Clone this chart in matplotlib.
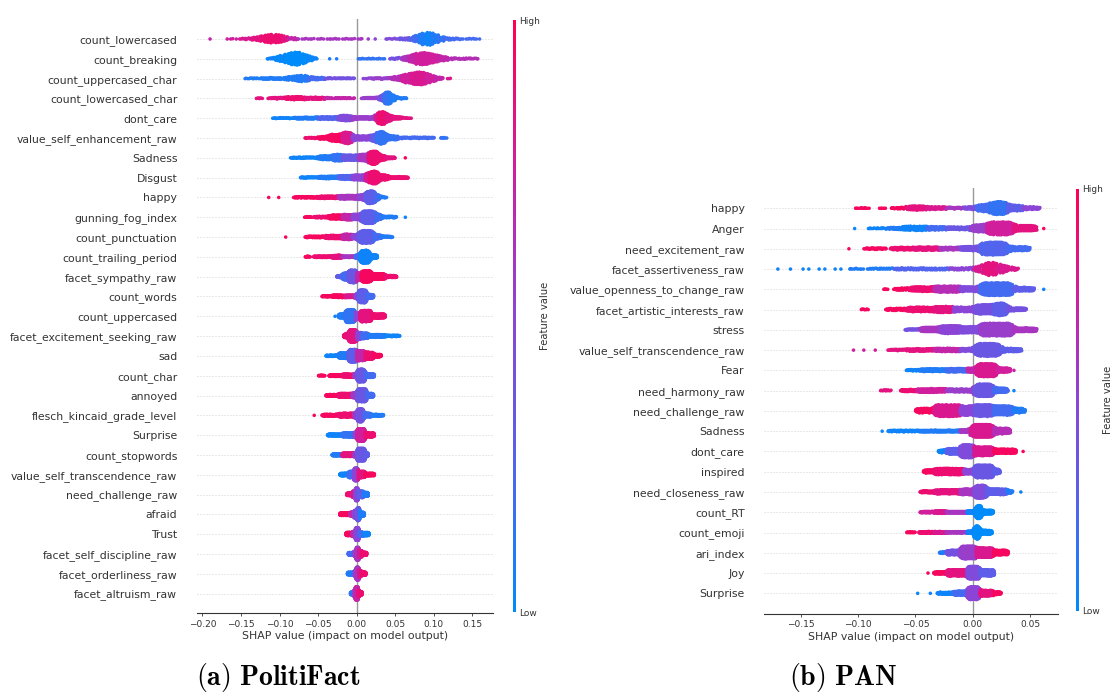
import numpy as np
import matplotlib
matplotlib.use("Agg")
import matplotlib.pyplot as plt
from matplotlib.colors import LinearSegmentedColormap, Normalize
from matplotlib.cm import ScalarMappable

plt.rcParams["mathtext.fontset"] = "cm"

# every swarm is a list of runs:
# (shap from, shap to, half thickness in dot layers, feature value 0=low .. 1=high)

# ---------------- (a) PolitiFact ----------------
pf_features = ["count_lowercased", "count_breaking", "count_uppercased_char",
               "count_lowercased_char", "dont_care", "value_self_enhancement_raw",
               "Sadness", "Disgust", "happy", "gunning_fog_index", "count_punctuation",
               "count_trailing_period", "facet_sympathy_raw", "count_words",
               "count_uppercased", "facet_excitement_seeking_raw", "sad", "count_char",
               "annoyed", "flesch_kincaid_grade_level", "Surprise", "count_stopwords",
               "value_self_transcendence_raw", "need_challenge_raw", "afraid", "Trust",
               "facet_self_discipline_raw", "facet_orderliness_raw", "facet_altruism_raw"]

pf_count_lowercased = [(-0.190, -0.190, 1, 0.7), (-0.170, -0.151, 0.5, 0.75), (-0.151, -0.136, 1, 0.8),
                       (-0.136, -0.123, 2.5, 0.85), (-0.123, -0.097, 6, 0.9), (-0.097, -0.089, 3, 0.85),
                       (-0.089, -0.076, 1.5, 0.7), (-0.076, 0.009, 0.6, 0.6), (0.015, 0.015, 1, 0.55),
                       (0.024, 0.024, 1, 0.5), (0.036, 0.054, 0.8, 0.45), (0.054, 0.071, 1.5, 0.35),
                       (0.071, 0.080, 4, 0.2), (0.080, 0.088, 8, 0.1), (0.088, 0.097, 10, 0.05),
                       (0.097, 0.106, 6, 0.1), (0.106, 0.114, 3, 0.15), (0.114, 0.132, 1.5, 0.2),
                       (0.132, 0.160, 0.7, 0.2)]
pf_count_breaking = [(-0.117, -0.106, 1, 0.05), (-0.106, -0.093, 4, 0.02), (-0.093, -0.084, 8, 0.0),
                     (-0.084, -0.073, 10, 0.0), (-0.073, -0.065, 7, 0.0), (-0.065, -0.056, 3, 0.02),
                     (-0.056, -0.050, 1, 0.05), (-0.035, -0.035, 1, 0.1), (-0.026, -0.026, 1, 0.1),
                     (0.002, 0.037, 0.7, 0.15), (0.042, 0.058, 1, 0.4), (0.058, 0.067, 3, 0.6),
                     (0.067, 0.076, 6, 0.7), (0.076, 0.093, 9, 0.75), (0.093, 0.106, 6, 0.75),
                     (0.106, 0.119, 3, 0.7), (0.119, 0.158, 1, 0.65)]
pf_count_uppercased_char = [(-0.146, -0.123, 0.8, 0.1), (-0.123, -0.093, 1.5, 0.1), (-0.093, -0.080, 3, 0.1),
                            (-0.080, -0.063, 5, 0.1), (-0.063, -0.041, 2, 0.2), (-0.041, -0.002, 1, 0.4),
                            (0.007, 0.019, 0.7, 0.5), (0.019, 0.045, 1.2, 0.55), (0.045, 0.058, 3, 0.65),
                            (0.058, 0.071, 7, 0.75), (0.071, 0.089, 10, 0.8), (0.089, 0.101, 6, 0.75),
                            (0.101, 0.112, 2, 0.7), (0.117, 0.123, 0.7, 0.8)]
pf_count_lowercased_char = [(-0.131, -0.122, 0.7, 0.85), (-0.115, -0.093, 1, 0.85), (-0.093, -0.067, 2, 0.9),
                            (-0.067, -0.041, 1.5, 0.85), (-0.041, -0.002, 0.8, 0.7), (0.006, 0.028, 1, 0.55),
                            (0.028, 0.035, 3, 0.4), (0.035, 0.043, 9, 0.15), (0.043, 0.050, 4, 0.1),
                            (0.050, 0.065, 1, 0.1)]
pf_dont_care = [(-0.109, -0.080, 0.8, 0.05), (-0.080, -0.050, 1.5, 0.1), (-0.050, -0.024, 2, 0.25),
                (-0.024, -0.006, 4, 0.45), (-0.006, 0.024, 2, 0.55), (0.024, 0.028, 6, 0.8),
                (0.028, 0.037, 10, 0.9), (0.037, 0.045, 5, 0.85), (0.045, 0.058, 2, 0.85),
                (0.058, 0.071, 0.7, 0.85)]
pf_value_self_enhancement_raw = [(-0.068, -0.050, 0.8, 0.9), (-0.050, -0.037, 2, 0.95), (-0.037, -0.019, 5, 0.95),
                                 (-0.019, -0.006, 8, 0.8), (-0.006, 0.019, 3, 0.5), (0.019, 0.026, 5, 0.3),
                                 (0.026, 0.037, 9, 0.15), (0.037, 0.054, 3, 0.15), (0.054, 0.101, 1, 0.2),
                                 (0.108, 0.117, 0.7, 0.15)]
pf_sadness = [(-0.086, -0.050, 1, 0.05), (-0.050, -0.032, 3, 0.1), (-0.032, -0.019, 5, 0.15),
              (-0.019, 0.002, 4, 0.35), (0.002, 0.015, 5, 0.6), (0.015, 0.028, 10, 0.9),
              (0.028, 0.037, 4, 0.9), (0.037, 0.050, 1.5, 0.85), (0.063, 0.063, 1, 0.95)]
pf_disgust = [(-0.073, -0.050, 1, 0.05), (-0.050, -0.024, 2, 0.1), (-0.024, -0.006, 3, 0.25),
              (-0.006, 0.011, 4, 0.5), (0.011, 0.017, 7, 0.8), (0.017, 0.028, 10, 0.9),
              (0.028, 0.041, 4, 0.9), (0.041, 0.067, 1.5, 0.9)]
pf_happy = [(-0.114, -0.114, 1, 0.95), (-0.101, -0.101, 1, 0.95), (-0.082, -0.050, 1.2, 0.95),
            (-0.050, -0.024, 2, 0.9), (-0.024, 0.002, 3, 0.6), (0.002, 0.011, 4, 0.5),
            (0.011, 0.024, 10, 0.3), (0.024, 0.030, 4, 0.2), (0.030, 0.039, 1, 0.1)]
pf_gunning_fog_index = [(-0.068, -0.058, 0.8, 0.95), (-0.056, -0.037, 1.2, 0.9), (-0.037, -0.019, 3, 0.95),
                        (-0.019, -0.006, 4, 0.7), (-0.006, 0.006, 4, 0.5), (0.006, 0.024, 9, 0.3),
                        (0.024, 0.032, 4, 0.2), (0.032, 0.052, 1.2, 0.1), (0.063, 0.063, 1, 0.05)]
pf_count_punctuation = [(-0.092, -0.092, 1, 0.95), (-0.067, -0.041, 1.2, 0.95), (-0.041, -0.019, 2.5, 0.9),
                        (-0.019, -0.006, 4, 0.7), (-0.006, 0.002, 3, 0.5), (0.002, 0.022, 9, 0.3),
                        (0.022, 0.032, 3, 0.2), (0.032, 0.047, 1, 0.1)]
pf_count_trailing_period = [(-0.067, -0.060, 0.8, 0.95), (-0.056, -0.032, 1.2, 0.9), (-0.032, -0.019, 2.5, 0.85),
                            (-0.019, -0.002, 1.2, 0.6), (-0.002, 0.004, 3, 0.2), (0.004, 0.017, 10, 0.05),
                            (0.017, 0.027, 3, 0.05)]
pf_facet_sympathy_raw = [(-0.026, -0.019, 1.5, 0.3), (-0.019, -0.011, 5, 0.2), (-0.011, 0.000, 9, 0.35),
                         (0.000, 0.006, 5, 0.7), (0.006, 0.019, 8, 0.95), (0.019, 0.037, 4, 0.95),
                         (0.037, 0.052, 1.5, 0.9)]
pf_count_words = [(-0.045, -0.032, 1, 0.95), (-0.032, -0.015, 2, 0.95), (-0.015, -0.002, 2, 0.8),
                  (-0.002, 0.002, 4, 0.5), (0.002, 0.013, 10, 0.3), (0.013, 0.022, 3, 0.2)]
pf_count_uppercased = [(-0.028, -0.028, 1, 0.05), (-0.024, -0.015, 3, 0.1), (-0.015, -0.002, 9, 0.15),
                       (-0.002, 0.004, 4, 0.5), (0.004, 0.019, 8, 0.85), (0.019, 0.037, 3, 0.9)]
pf_facet_excitement_seeking_raw = [(-0.017, -0.011, 3, 0.9), (-0.011, 0.000, 9, 0.85), (0.000, 0.006, 5, 0.5),
                                   (0.006, 0.015, 4, 0.2), (0.015, 0.037, 2, 0.1), (0.037, 0.056, 1, 0.05)]
pf_sad = [(-0.040, -0.024, 1, 0.05), (-0.024, -0.011, 4, 0.1), (-0.011, 0.000, 9, 0.3),
          (0.000, 0.011, 7, 0.7), (0.011, 0.022, 5, 0.9), (0.022, 0.032, 2, 0.95)]
pf_count_char = [(-0.050, -0.041, 0.7, 0.95), (-0.036, -0.019, 1.5, 0.95), (-0.019, -0.004, 2.5, 0.9),
                 (-0.004, 0.000, 3, 0.6), (0.000, 0.011, 10, 0.35), (0.011, 0.023, 3, 0.2)]
pf_annoyed = [(-0.040, -0.024, 1.5, 0.95), (-0.024, -0.006, 3, 0.9), (-0.006, 0.000, 4, 0.6),
              (0.000, 0.013, 10, 0.35), (0.013, 0.022, 3, 0.2)]
pf_flesch_kincaid_grade_level = [(-0.055, -0.055, 1, 0.95), (-0.045, -0.024, 1.5, 0.95), (-0.024, -0.004, 3, 0.9),
                                 (-0.004, 0.000, 4, 0.6), (0.000, 0.009, 10, 0.4), (0.009, 0.019, 3, 0.2),
                                 (0.019, 0.035, 1.5, 0.1)]
pf_surprise = [(-0.038, -0.019, 1.5, 0.05), (-0.019, -0.004, 3, 0.15), (-0.004, 0.000, 4, 0.4),
               (0.000, 0.011, 9, 0.75), (0.011, 0.023, 3, 0.9)]
pf_count_stopwords = [(-0.032, -0.019, 1.5, 0.1), (-0.019, -0.004, 2.5, 0.85), (-0.004, 0.000, 3, 0.6),
                      (0.000, 0.011, 9, 0.35), (0.011, 0.015, 3, 0.3)]
pf_value_self_transcendence_raw = [(-0.022, -0.011, 2, 0.05), (-0.011, -0.004, 5, 0.2), (-0.004, 0.002, 10, 0.5),
                                   (0.002, 0.011, 5, 0.85), (0.011, 0.023, 2, 0.95)]
pf_need_challenge_raw = [(-0.013, -0.006, 2, 0.9), (-0.006, -0.002, 5, 0.8), (-0.002, 0.002, 10, 0.5),
                         (0.002, 0.009, 5, 0.3), (0.009, 0.015, 3, 0.1)]
pf_afraid = [(-0.022, -0.009, 2, 0.95), (-0.009, -0.004, 3, 0.7), (-0.004, 0.000, 6, 0.5),
             (0.000, 0.004, 10, 0.35), (0.004, 0.010, 3, 0.1)]
pf_trust = [(-0.014, -0.006, 2.5, 0.95), (-0.006, -0.002, 4, 0.7), (-0.002, 0.003, 10, 0.5),
            (0.003, 0.009, 3, 0.2), (0.009, 0.016, 2.5, 0.05)]
pf_facet_self_discipline_raw = [(-0.011, -0.004, 2, 0.2), (-0.004, -0.001, 4, 0.5), (-0.001, 0.003, 10, 0.6),
                                (0.003, 0.007, 5, 0.8), (0.007, 0.013, 2.5, 0.9)]
pf_facet_orderliness_raw = [(-0.012, -0.004, 2, 0.1), (-0.004, -0.001, 4, 0.4), (-0.001, 0.003, 10, 0.6),
                            (0.003, 0.006, 5, 0.8), (0.006, 0.012, 2.5, 0.9)]
pf_facet_altruism_raw = [(-0.008, -0.004, 2, 0.15), (-0.004, -0.002, 5, 0.5), (-0.002, 0.002, 10, 0.7),
                         (0.002, 0.004, 5, 0.85), (0.004, 0.007, 2.5, 0.9)]

pf_swarms = [pf_count_lowercased, pf_count_breaking, pf_count_uppercased_char, pf_count_lowercased_char,
             pf_dont_care, pf_value_self_enhancement_raw, pf_sadness, pf_disgust, pf_happy,
             pf_gunning_fog_index, pf_count_punctuation, pf_count_trailing_period, pf_facet_sympathy_raw,
             pf_count_words, pf_count_uppercased, pf_facet_excitement_seeking_raw, pf_sad, pf_count_char,
             pf_annoyed, pf_flesch_kincaid_grade_level, pf_surprise, pf_count_stopwords,
             pf_value_self_transcendence_raw, pf_need_challenge_raw, pf_afraid, pf_trust,
             pf_facet_self_discipline_raw, pf_facet_orderliness_raw, pf_facet_altruism_raw]
pf_xticks = [-0.20, -0.15, -0.10, -0.05, 0.00, 0.05, 0.10, 0.15]

# ---------------- (b) PAN ----------------
pan_features = ["happy", "Anger", "need_excitement_raw", "facet_assertiveness_raw",
                "value_openness_to_change_raw", "facet_artistic_interests_raw", "stress",
                "value_self_transcendence_raw", "Fear", "need_harmony_raw", "need_challenge_raw",
                "Sadness", "dont_care", "inspired", "need_closeness_raw", "count_RT", "count_emoji",
                "ari_index", "Joy", "Surprise"]

pan_happy = [(-0.103, -0.090, 0.7, 0.95), (-0.082, -0.076, 0.7, 0.95), (-0.071, -0.058, 1.2, 0.95),
             (-0.058, -0.040, 3, 0.85), (-0.040, -0.023, 2, 0.8), (-0.023, -0.008, 1.2, 0.6),
             (-0.008, 0.003, 2, 0.45), (0.003, 0.015, 5, 0.2), (0.015, 0.030, 9, 0.15),
             (0.030, 0.044, 4, 0.3), (0.044, 0.059, 2, 0.5)]
pan_anger = [(-0.103, -0.103, 1, 0.05), (-0.092, -0.075, 0.8, 0.05), (-0.075, -0.063, 1.5, 0.1),
             (-0.063, -0.040, 3, 0.05), (-0.040, -0.023, 2.5, 0.2), (-0.023, -0.002, 2, 0.35),
             (-0.002, 0.012, 5, 0.55), (0.012, 0.035, 9, 0.75), (0.035, 0.056, 4, 0.85),
             (0.062, 0.062, 1, 0.95)]
pan_need_excitement_raw = [(-0.108, -0.108, 1, 0.95), (-0.095, -0.075, 1.2, 0.95), (-0.072, -0.052, 2, 0.9),
                           (-0.052, -0.029, 2.5, 0.85), (-0.029, -0.011, 2, 0.6), (-0.011, 0.006, 3, 0.4),
                           (0.006, 0.030, 9, 0.25), (0.030, 0.050, 3, 0.2)]
pan_facet_assertiveness_raw = [(-0.170, -0.170, 1, 0.05), (-0.159, -0.159, 1, 0.05), (-0.148, -0.148, 1, 0.05),
                               (-0.143, -0.143, 1, 0.05), (-0.134, -0.134, 1, 0.05), (-0.129, -0.129, 1, 0.05),
                               (-0.120, -0.120, 1, 0.05), (-0.115, -0.115, 1, 0.05), (-0.108, -0.095, 0.8, 0.1),
                               (-0.092, -0.069, 1, 0.1), (-0.069, -0.020, 1.5, 0.25), (-0.020, 0.001, 1.5, 0.5),
                               (0.001, 0.009, 4, 0.8), (0.009, 0.021, 9, 0.85), (0.021, 0.030, 5, 0.8),
                               (0.030, 0.040, 2, 0.8)]
pan_value_openness_to_change_raw = [(-0.078, -0.074, 0.8, 0.95), (-0.069, -0.055, 1.5, 0.95), (-0.055, -0.034, 3, 0.9),
                                    (-0.034, -0.011, 4, 0.65), (-0.011, 0.006, 3, 0.45), (0.006, 0.035, 8, 0.2),
                                    (0.035, 0.054, 2.5, 0.3), (0.062, 0.062, 1, 0.05)]
pan_facet_artistic_interests_raw = [(-0.098, -0.091, 0.8, 0.95), (-0.076, -0.058, 1.5, 0.95), (-0.058, -0.034, 3, 0.9),
                                    (-0.034, -0.017, 4, 0.85), (-0.017, 0.001, 3, 0.5), (0.001, 0.018, 6, 0.4),
                                    (0.018, 0.030, 8, 0.3), (0.030, 0.047, 2, 0.4)]
pan_stress = [(-0.059, -0.046, 1, 0.4), (-0.046, -0.029, 3, 0.6), (-0.029, -0.011, 5, 0.5),
              (-0.011, 0.006, 4, 0.45), (0.006, 0.035, 8, 0.55), (0.035, 0.056, 2.5, 0.6)]
pan_value_self_transcendence_raw = [(-0.104, -0.104, 1, 0.75), (-0.095, -0.095, 1, 0.75), (-0.085, -0.085, 1, 0.75),
                                    (-0.074, -0.058, 1, 0.85), (-0.058, -0.034, 2, 0.85), (-0.034, -0.011, 2.5, 0.7),
                                    (-0.011, 0.001, 2, 0.45), (0.001, 0.024, 9, 0.35), (0.024, 0.043, 2.5, 0.3)]
pan_fear = [(-0.058, -0.046, 1, 0.05), (-0.046, -0.023, 2, 0.1), (-0.023, -0.005, 2.5, 0.2),
            (-0.005, 0.003, 3, 0.7), (0.003, 0.021, 9, 0.8), (0.021, 0.033, 3, 0.75),
            (0.036, 0.036, 1, 0.7)]
pan_need_harmony_raw = [(-0.081, -0.071, 0.8, 0.85), (-0.063, -0.049, 1.5, 0.9), (-0.049, -0.023, 2.5, 0.75),
                        (-0.023, 0.001, 2, 0.55), (0.001, 0.018, 8, 0.35), (0.018, 0.031, 3, 0.2),
                        (0.036, 0.036, 1, 0.05)]
pan_need_challenge_raw = [(-0.050, -0.034, 2, 0.95), (-0.034, -0.011, 5, 0.8), (-0.011, 0.001, 4, 0.5),
                          (0.001, 0.018, 5, 0.35), (0.018, 0.035, 4, 0.2), (0.035, 0.046, 2, 0.1)]
pan_sadness = [(-0.079, -0.079, 1, 0.05), (-0.074, -0.046, 1.2, 0.05), (-0.046, -0.011, 1.5, 0.1),
               (-0.011, -0.002, 2, 0.6), (-0.002, 0.018, 9, 0.8), (0.018, 0.033, 4, 0.65)]
pan_dont_care = [(-0.030, -0.023, 2, 0.05), (-0.023, -0.011, 4, 0.3), (-0.011, 0.001, 9, 0.45),
                 (0.001, 0.018, 6, 0.8), (0.018, 0.038, 3, 0.95), (0.044, 0.044, 1, 0.95)]
pan_inspired = [(-0.043, -0.034, 2, 0.95), (-0.034, -0.008, 4, 0.9), (-0.008, 0.001, 3, 0.5),
                (0.001, 0.018, 8, 0.35), (0.018, 0.024, 3, 0.3)]
pan_need_closeness_raw = [(-0.046, -0.034, 1.5, 0.9), (-0.034, -0.011, 3, 0.85), (-0.011, 0.001, 4, 0.6),
                          (0.001, 0.012, 9, 0.45), (0.012, 0.030, 4, 0.3), (0.030, 0.035, 2, 0.1),
                          (0.042, 0.042, 1, 0.05)]
pan_count_rt = [(-0.046, -0.034, 1.2, 0.75), (-0.034, -0.023, 2, 0.8), (-0.023, -0.005, 1.5, 0.6),
                (-0.005, 0.002, 2, 0.05), (0.002, 0.008, 10, 0.0), (0.008, 0.018, 3, 0.0)]
pan_count_emoji = [(-0.058, -0.050, 0.8, 0.95), (-0.047, -0.034, 1.5, 0.9), (-0.034, -0.023, 1.5, 0.8),
                   (-0.023, -0.005, 1.2, 0.6), (-0.005, 0.001, 2, 0.05), (0.001, 0.006, 10, 0.0),
                   (0.006, 0.017, 3, 0.0)]
pan_ari_index = [(-0.029, -0.023, 1, 0.1), (-0.023, -0.011, 3, 0.4), (-0.011, 0.003, 8, 0.55),
                 (0.003, 0.018, 6, 0.8), (0.018, 0.031, 3, 0.95)]
pan_joy = [(-0.039, -0.039, 1, 0.95), (-0.034, -0.023, 1.5, 0.95), (-0.023, -0.005, 4, 0.85),
           (-0.005, 0.006, 8, 0.45), (0.006, 0.019, 4, 0.3)]
pan_surprise = [(-0.048, -0.048, 1, 0.05), (-0.037, -0.037, 1, 0.05), (-0.031, -0.017, 1.5, 0.05),
                (-0.017, -0.005, 3, 0.2), (-0.005, 0.006, 9, 0.5), (0.006, 0.018, 4, 0.85),
                (0.018, 0.025, 2, 0.95)]

pan_swarms = [pan_happy, pan_anger, pan_need_excitement_raw, pan_facet_assertiveness_raw,
              pan_value_openness_to_change_raw, pan_facet_artistic_interests_raw, pan_stress,
              pan_value_self_transcendence_raw, pan_fear, pan_need_harmony_raw, pan_need_challenge_raw,
              pan_sadness, pan_dont_care, pan_inspired, pan_need_closeness_raw, pan_count_rt,
              pan_count_emoji, pan_ari_index, pan_joy, pan_surprise]
pan_xticks = [-0.15, -0.10, -0.05, 0.00, 0.05]

# shap style red/blue colormap
shap_cmap = LinearSegmentedColormap.from_list(
    "red_blue", ["#008bfb", "#5263ee", "#8b44d6", "#d01e9e", "#ff0051"])

W, H = 1113, 694


def box(x0, y0, x1, y1):  # pixel box -> figure fraction
    return [x0 / W, 1 - y1 / H, (x1 - x0) / W, (y1 - y0) / H]


def swarm_points(segs):
    lo = min(s[0] for s in segs)
    hi = max(s[1] for s in segs)
    q = (hi - lo) / 100.0
    xs, cs = [], []
    for x0, x1, t, c in segs:
        n = max(1, int(round(2 * t * (x1 - x0) / q)))
        for k in range(n):
            xs.append(x0 + ((k * 0.618034 + 0.5) % 1.0) * (x1 - x0))
            cs.append(c)
    xs = np.array(xs)
    cs = np.array(cs)
    # stack like shap's beeswarm: same bin -> alternate up / down
    quant = np.round(100 * (xs - lo) / (hi - lo + 1e-8)).astype(int)
    counts = np.bincount(quant, minlength=101)
    env = np.convolve(counts, np.array([1, 2, 3, 4, 3, 2, 1]) / 16.0, mode="same")
    mix = (np.arange(len(xs)) * 0.618034) % 1.0
    order = np.lexsort((mix, quant))
    ys = np.zeros(len(xs))
    layer, last = 0, None
    for i in order:
        if quant[i] != last:
            layer = 0
        ys[i] = np.ceil(layer / 2) * ((layer % 2) * 2 - 1)
        layer += 1
        last = quant[i]
    ys *= env[quant] / counts[quant]          # soften the outline a little
    ys *= 0.9 * 0.4 / (np.max(np.abs(ys)) + 1)
    return xs, ys, cs


def summary(ax, cax, names, swarms, xlim, xticks):
    n = len(names)
    for i, segs in enumerate(swarms):
        pos = n - 1 - i
        ax.axhline(pos, color="#cccccc", lw=0.6, dashes=(1.2, 2.4), zorder=-1)
        xs, ys, cs = swarm_points(segs)
        ax.scatter(xs, pos + ys, c=cs, cmap=shap_cmap, vmin=0, vmax=1,
                   s=6.5, linewidths=0, zorder=3)
    ax.axvline(0, color="#999999", lw=1.0, zorder=-1)
    ax.set_xlim(xlim)
    ax.set_ylim(-1, n)
    ax.set_yticks(range(n))
    ax.set_yticklabels(names[::-1], fontsize=7.8, color="#333333")
    ax.set_xticks(xticks)
    ax.tick_params("y", length=0, pad=14)
    ax.tick_params("x", labelsize=6.5, length=2.5, width=0.6,
                   color="#333333", labelcolor="#333333", pad=2)
    for side in ("top", "right", "left"):
        ax.spines[side].set_visible(False)
    ax.spines["bottom"].set_color("#333333")
    ax.spines["bottom"].set_linewidth(0.8)
    ax.set_xlabel("SHAP value (impact on model output)", fontsize=7.8,
                  color="#333333", labelpad=2)

    cb = plt.colorbar(ScalarMappable(norm=Normalize(0, 1), cmap=shap_cmap),
                      cax=cax, ticks=[0, 1])
    cb.set_ticklabels(["Low", "High"])
    cb.outline.set_visible(False)
    cax.tick_params(length=0, labelsize=6.5, pad=2, labelcolor="#333333")
    cb.set_label("Feature value", size=7.2, labelpad=0, color="#333333")


fig = plt.figure(figsize=(11.13, 6.94), dpi=100)
ax1 = fig.add_axes(box(196.7, 19.2, 493.3, 613.4))
cax1 = fig.add_axes(box(513, 20, 516, 612))
ax2 = fig.add_axes(box(764, 188, 1058.3, 613.6))
cax2 = fig.add_axes(box(1076, 189, 1079, 611))

summary(ax1, cax1, pf_features, pf_swarms, (-0.2073, 0.177), pf_xticks)
summary(ax2, cax2, pan_features, pan_swarms, (-0.1821, 0.0747), pan_xticks)

fig.text(278 / W, 1 - 677 / H, r"$\mathbf{(a)\ PolitiFact}$", fontsize=20,
         ha="center", va="center")
fig.text(843 / W, 1 - 677 / H, r"$\mathbf{(b)\ PAN}$", fontsize=20,
         ha="center", va="center")

fig.savefig("out.png", dpi=100)
